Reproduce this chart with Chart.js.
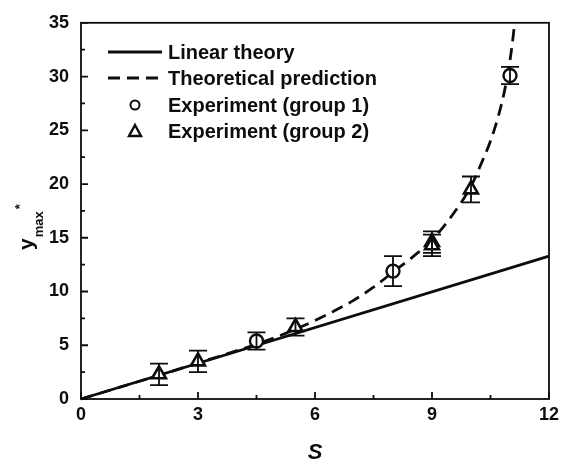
<!DOCTYPE html>
<html>
<head>
<meta charset="utf-8">
<script src="https://cdn.jsdelivr.net/npm/chart.js@4/dist/chart.umd.min.js"></script>
<style>
html,body{margin:0;padding:0;background:#fff;}
#wrap{width:571px;height:464px;position:relative;}
</style>
</head>
<body>
<div id="wrap"><canvas id="c" width="571" height="464"></canvas></div>
<script>
// ---- data ----
const linearS = [0, 12];
const linearY = [0, 13.3];

const theoryS = [0, 1, 2, 3, 4, 5, 5.5, 6, 6.5, 7, 7.5, 8, 8.5, 9, 9.5, 10, 10.25, 10.5, 10.7, 10.85, 10.95, 11.05, 11.12];
const theoryY = [0, 1.1, 2.2, 3.35, 4.5, 5.75, 6.5, 7.3, 8.2, 9.2, 10.4, 11.8, 13.2, 14.8, 17.0, 19.8, 21.8, 24.0, 26.3, 28.5, 30.4, 32.8, 35];

const group1S = [4.5, 8, 11];
const group1Y = [5.4, 11.9, 30.1];
const group1Err = [0.8, 1.4, 0.8];

const group2S = [2, 3, 5.5, 9, 9, 10];
const group2Y = [2.3, 3.5, 6.7, 14.6, 14.3, 19.5];
const group2Err = [1.0, 1.0, 0.8, 1.0, 1.0, 1.2];

const xTicks = [0, 3, 6, 9, 12];
const yTicks = [0, 5, 10, 15, 20, 25, 30, 35];

const legendLabels = ['Linear theory', 'Theoretical prediction', 'Experiment (group 1)', 'Experiment (group 2)'];

const pts = (xs, ys) => xs.map((x, i) => ({x: x, y: ys[i]}));
const INK = '#0d0d0d';

const errorBars = {
  id: 'errorBars',
  afterDatasetsDraw(chart) {
    const ctx = chart.ctx, xs = chart.scales.x, ys = chart.scales.y;
    const sets = [[group1S, group1Y, group1Err], [group2S, group2Y, group2Err]];
    ctx.save();
    ctx.strokeStyle = INK; ctx.lineWidth = 1.8;
    sets.forEach(([S, Y, E]) => {
      S.forEach((s, i) => {
        const px = xs.getPixelForValue(s);
        const top = ys.getPixelForValue(Y[i] + E[i]);
        const bot = ys.getPixelForValue(Y[i] - E[i]);
        ctx.beginPath();
        ctx.moveTo(px, top); ctx.lineTo(px, bot);
        ctx.moveTo(px - 9, top); ctx.lineTo(px + 9, top);
        ctx.moveTo(px - 9, bot); ctx.lineTo(px + 9, bot);
        ctx.stroke();
      });
    });
    ctx.restore();
  }
};

const frame = {
  id: 'frame',
  afterDraw(chart) {
    const ctx = chart.ctx, a = chart.chartArea, xs = chart.scales.x, ys = chart.scales.y;
    ctx.save();
    ctx.strokeStyle = INK; ctx.lineWidth = 1.8;
    ctx.strokeRect(a.left, a.top, a.right - a.left, a.bottom - a.top);
    ctx.beginPath();
    for (let v = 0; v <= 12.001; v += 1.5) {
      const px = xs.getPixelForValue(v);
      const len = (Math.abs(v / 3 - Math.round(v / 3)) < 1e-6) ? 7 : 4;
      ctx.moveTo(px, a.bottom); ctx.lineTo(px, a.bottom - len);
    }
    for (let v = 0; v <= 35.001; v += 2.5) {
      const py = ys.getPixelForValue(v);
      const len = (Math.abs(v / 5 - Math.round(v / 5)) < 1e-6) ? 7 : 4;
      ctx.moveTo(a.left, py); ctx.lineTo(a.left + len, py);
    }
    ctx.stroke();

    // axis titles
    ctx.fillStyle = INK;
    ctx.font = 'italic bold 22px "Liberation Sans", Arial, sans-serif';
    ctx.textAlign = 'center'; ctx.textBaseline = 'alphabetic';
    ctx.fillText('S', (a.left + a.right) / 2, 459);

    ctx.save();
    ctx.translate(33, 250);
    ctx.rotate(-Math.PI / 2);
    ctx.textAlign = 'left';
    ctx.font = 'bold 21px "Liberation Sans", Arial, sans-serif';
    ctx.fillText('y', 0, 0);
    const wy = ctx.measureText('y').width;
    ctx.font = 'bold 13px "Liberation Sans", Arial, sans-serif';
    ctx.fillText('max', wy + 1, 10);
    const wm = ctx.measureText('max').width;
    ctx.fillText('*', wy + wm + 3, -9);
    ctx.restore();

    // legend
    const rows = [52, 78, 105, 131];
    const tx = 168;
    ctx.font = 'bold 20px "Liberation Sans", Arial, sans-serif';
    ctx.textAlign = 'left'; ctx.textBaseline = 'middle';
    legendLabels.forEach((t, i) => ctx.fillText(t, tx, rows[i] + 1));
    ctx.lineWidth = 2.8;
    ctx.beginPath(); ctx.moveTo(108, rows[0]); ctx.lineTo(162, rows[0]); ctx.stroke();
    ctx.setLineDash([12, 7]);
    ctx.beginPath(); ctx.moveTo(108, rows[1]); ctx.lineTo(162, rows[1]); ctx.stroke();
    ctx.setLineDash([]);
    ctx.lineWidth = 2;
    ctx.beginPath(); ctx.arc(135, rows[2], 4.5, 0, Math.PI * 2); ctx.stroke();
    ctx.beginPath();
    ctx.moveTo(135, rows[3] - 6); ctx.lineTo(141, rows[3] + 5); ctx.lineTo(129, rows[3] + 5); ctx.closePath();
    ctx.lineWidth = 2.4; ctx.stroke();
    ctx.restore();
  }
};

const tickFont = {family: '"Liberation Sans", Arial, sans-serif', size: 18, weight: 'bold'};

new Chart(document.getElementById('c'), {
  type: 'scatter',
  data: {
    datasets: [
      {label: legendLabels[0], data: pts(linearS, linearY), showLine: true, borderColor: INK, borderWidth: 2.8, pointRadius: 0, order: 3},
      {label: legendLabels[1], data: pts(theoryS, theoryY), showLine: true, borderColor: INK, borderWidth: 2.8, borderDash: [12, 7], pointRadius: 0, cubicInterpolationMode: 'monotone', order: 2},
      {label: legendLabels[2], data: pts(group1S, group1Y), pointStyle: 'circle', pointRadius: 6.5, borderColor: INK, backgroundColor: '#fff', borderWidth: 2.4, order: 1},
      {label: legendLabels[3], data: pts(group2S, group2Y), pointStyle: 'triangle', pointRadius: 8, borderColor: INK, backgroundColor: '#fff', borderWidth: 2.6, order: 0}
    ]
  },
  options: {
    responsive: false,
    animation: false,
    clip: false,
    layout: {padding: {top: 16, right: 22, left: 0, bottom: 0}},
    plugins: {legend: {display: false}, tooltip: {enabled: false}},
    scales: {
      x: {
        type: 'linear', min: 0, max: 12,
        afterBuildTicks: s => { s.ticks = xTicks.map(v => ({value: v})); },
        afterFit: s => { s.height = 65; },
        grid: {display: false, drawTicks: false},
        border: {display: false},
        ticks: {font: tickFont, color: INK, padding: 5, maxRotation: 0}
      },
      y: {
        type: 'linear', min: 0, max: 35,
        afterBuildTicks: s => { s.ticks = yTicks.map(v => ({value: v})); },
        afterFit: s => { s.width = 81; },
        grid: {display: false, drawTicks: false},
        border: {display: false},
        ticks: {font: tickFont, color: INK, padding: 12}
      }
    }
  },
  plugins: [errorBars, frame]
});
</script>
</body>
</html>
